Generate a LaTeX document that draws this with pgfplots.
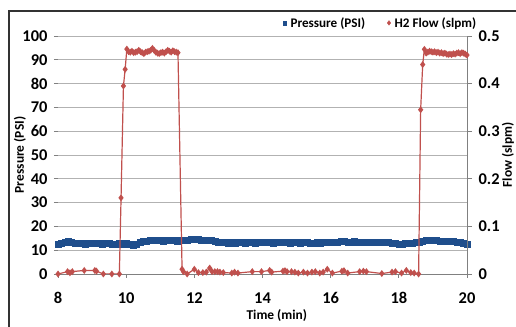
\documentclass[border=0pt]{standalone}
\usepackage{pgfplots}
\pgfplotsset{compat=1.18}
\usepackage{fontspec}
\setmainfont{Carlito}
\definecolor{pblue}{RGB}{31,78,140}
\definecolor{fred}{RGB}{192,80,77}
\begin{document}
\begin{tikzpicture}
\useasboundingbox (0,0) rectangle (516bp,327bp);
\draw[black!80, line width=1.3bp] (9bp,-5bp) rectangle (530bp,316bp);
\begin{axis}[
  at={(58bp,53bp)}, anchor=south west, scale only axis,
  width=409bp, height=238bp,
  xmin=8, xmax=20, ymin=0, ymax=100,
  xtick={8,10,...,20}, ytick={0,10,...,100},
  axis x line=bottom, axis y line=left,
  x axis line style={-, gray, line width=0.8bp},
  y axis line style={draw=none},
  ymajorgrids, grid style={gray!60, line width=0.8bp},
  tick align=outside, major tick length=4bp,
  tick style={gray, line width=0.8bp},
  /pgf/number format/assume math mode=true,
  tick label style={font=\fontsize{16.5}{18}\selectfont\bfseries},
  xticklabel style={yshift=-11bp},
  yticklabel style={xshift=-3bp},
  label style={font=\fontsize{13.5}{15}\selectfont\bfseries},
  xlabel={Time (min)},
  xlabel style={at={(axis description cs:0.535,-0.175)}, anchor=center},
  ylabel={Pressure (PSI)},
  ylabel style={at={(axis description cs:-0.093,0.5)}, anchor=center, rotate=0},
]
\addplot[only marks, mark=square*, mark size=3bp, mark options={draw=pblue, fill=pblue}, color=pblue] coordinates {
(8.0,12.7) (8.1,12.9) (8.2,13.2) (8.3,13.6) (8.4,13.5) (8.5,13.0) (8.6,12.8) (8.7,12.9) (8.8,12.7) (8.9,12.9)
(9.0,12.8) (9.1,13.0) (9.2,12.8) (9.3,12.6) (9.4,12.8) (9.5,12.9) (9.6,12.7) (9.7,12.6) (9.8,12.8) (9.9,12.7)
(10.0,12.9) (10.1,12.5) (10.2,12.3) (10.3,12.7) (10.4,13.2) (10.5,13.6) (10.6,13.8) (10.7,14.0) (10.8,14.2) (10.9,14.0)
(11.0,14.1) (11.1,13.9) (11.2,14.2) (11.3,14.0) (11.4,14.1) (11.5,13.9) (11.6,14.0) (11.7,14.2) (11.8,14.3) (11.9,14.5)
(12.0,14.6) (12.1,14.5) (12.2,14.4) (12.3,14.3) (12.4,14.1) (12.5,14.0) (12.6,13.7) (12.7,13.5) (12.8,13.3) (12.9,13.2)
(13.0,13.0) (13.1,13.2) (13.2,13.1) (13.3,13.3) (13.4,13.2) (13.5,13.0) (13.6,13.2) (13.7,13.3) (13.8,13.1) (13.9,13.3)
(14.0,13.2) (14.1,13.4) (14.2,13.3) (14.3,13.1) (14.4,13.3) (14.5,13.2) (14.6,13.4) (14.7,13.2) (14.8,13.1) (14.9,13.3)
(15.0,13.2) (15.1,13.0) (15.2,13.2) (15.3,13.3) (15.4,13.1) (15.5,13.0) (15.6,13.2) (15.7,13.1) (15.8,13.3) (15.9,13.4)
(16.0,13.3) (16.1,13.5) (16.2,13.4) (16.3,13.6) (16.4,13.7) (16.5,13.5) (16.6,13.4) (16.7,13.6) (16.8,13.3) (16.9,13.2)
(17.0,13.4) (17.1,13.3) (17.2,13.5) (17.3,13.2) (17.4,13.3) (17.5,13.4) (17.6,13.2) (17.7,13.3) (17.8,13.1) (17.9,12.9)
(18.0,12.4) (18.1,12.5) (18.2,12.8) (18.3,13.0) (18.4,13.1) (18.5,13.2) (18.6,13.5) (18.7,13.9) (18.8,14.3) (18.9,14.2)
(19.0,14.1) (19.1,14.0) (19.2,13.9) (19.3,13.9) (19.4,13.8) (19.5,13.7) (19.6,13.6) (19.7,13.5) (19.8,13.3) (19.9,12.9)
(20.0,12.7)
};
\end{axis}
\begin{axis}[
  at={(58bp,53bp)}, anchor=south west, scale only axis,
  width=409bp, height=238bp,
  xmin=8, xmax=20, ymin=0, ymax=0.5,
  hide x axis,
  axis y line=right,
  y axis line style={-, gray, line width=0.8bp},
  ytick={0,0.1,0.2,0.3,0.4,0.5},
  yticklabels={0,0.1,0.2,0.3,0.4,0.5},
  tick align=outside, major tick length=5bp,
  tick style={gray, line width=0.8bp},
  tick label style={font=\fontsize{16.5}{18}\selectfont\bfseries},
  yticklabel style={xshift=3bp},
  label style={font=\fontsize{13.5}{15}\selectfont\bfseries},
  ylabel={Flow (slpm)},
  ylabel style={at={(axis description cs:1.100,0.5)}, anchor=center, rotate=0},
  legend columns=2,
  legend style={draw=none, fill=none, at={(1.035,1.055)}, anchor=east,
    font=\fontsize{13.2}{14}\selectfont\bfseries,
    /tikz/every even column/.append style={column sep=20bp},
    /tikz/every odd column/.append style={column sep=2bp}},
]
\addlegendimage{only marks, mark=square*, mark size=1.9bp, pblue}
\addlegendentry{Pressure (PSI)}
\addlegendimage{only marks, mark=diamond*, mark size=2.3bp, fred}
\addlegendentry{H2 Flow (slpm)}
\addplot[forget plot, fred, line width=1.2bp, mark=diamond*, mark size=2.5bp, mark options={fill=fred, draw=fred}] coordinates {
(8.00,0) (8.28,0.005) (8.35,0.0025) (8.42,0.005) (8.77,0.0075) (9.08,0.0075) (9.13,0.006) (9.33,0) (9.58,0) (9.80,0)
(9.85,0.16) (9.92,0.395) (9.97,0.43)
(10.02,0.4725) (10.07,0.467) (10.12,0.466) (10.17,0.468) (10.22,0.465) (10.27,0.466) (10.32,0.467) (10.37,0.470)
(10.42,0.467) (10.47,0.465) (10.52,0.463) (10.57,0.466) (10.62,0.467) (10.67,0.468) (10.72,0.470) (10.77,0.474)
(10.82,0.470) (10.87,0.466) (10.92,0.464) (10.97,0.463) (11.02,0.465) (11.07,0.466) (11.12,0.464) (11.17,0.467)
(11.22,0.470) (11.27,0.468) (11.32,0.466) (11.37,0.469) (11.42,0.467) (11.47,0.466) (11.52,0.465)
(11.64,0.01) (11.68,0.005) (11.79,0) (12.00,0.01) (12.12,0.003) (12.25,0.003) (12.35,0.004) (12.45,0.0125)
(12.52,0.005) (12.60,0.005) (12.68,0.005) (12.75,0.004) (12.85,0.003) (13.10,0.002) (13.18,0.004) (13.28,0.002)
(13.70,0.005) (13.97,0.005) (14.21,0.0075) (14.27,0.004) (14.60,0.006) (14.66,0.007) (14.72,0.005) (14.85,0.005)
(14.95,0.004) (15.05,0.002) (15.20,0.004) (15.32,0.002) (15.45,0.004) (15.55,0.005) (15.68,0.002) (15.78,0.004)
(15.90,0.01) (16.05,0.002) (16.33,0.006) (16.39,0.007) (16.50,0.002) (16.85,0.005) (16.96,0.006) (17.05,0.005)
(17.50,0.001) (17.80,0.004) (17.90,0.005) (18.08,0.002) (18.22,0.0075) (18.35,0.003) (18.45,0.002) (18.58,0)
(18.64,0.345) (18.70,0.44)
(18.75,0.472) (18.80,0.464) (18.85,0.466) (18.90,0.468) (18.95,0.467) (19.00,0.466) (19.05,0.467) (19.10,0.465)
(19.15,0.466) (19.20,0.464) (19.25,0.465) (19.30,0.463) (19.35,0.464) (19.40,0.462) (19.45,0.461) (19.50,0.462)
(19.55,0.461) (19.60,0.463) (19.65,0.462) (19.70,0.464) (19.75,0.465) (19.80,0.463) (19.85,0.465) (19.90,0.464)
(19.95,0.462) (20.00,0.460)
};
\end{axis}
\end{tikzpicture}
\end{document}
